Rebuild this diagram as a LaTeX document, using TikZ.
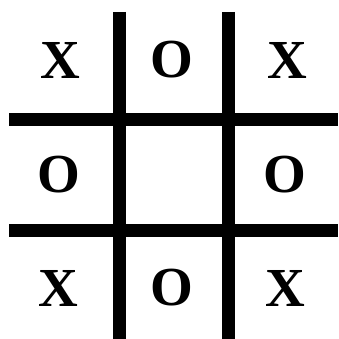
\documentclass[tikz,border=0pt]{standalone}
\usepackage{fontspec}
\setmainfont{Liberation Serif}
\usetikzlibrary{calc}

\begin{document}
\begin{tikzpicture}[x=1pt, y=-1pt, line width=13pt,
    cellmark/.style={inner sep=0pt, font=\fontsize{55}{55}\selectfont\bfseries}]
  \useasboundingbox (0,0) rectangle (338,339);
  % board: two vertical and two horizontal bars
  \coordinate (V1) at (119,12);
  \coordinate (V2) at (228,12);
  \coordinate (H1) at (9,120);
  \coordinate (H2) at (9,230);
  \draw (V1) -- (119,339);
  \draw (V2) -- (228,339);
  \draw (H1) -- (338,120);
  \draw (H2) -- (338,230);
  % marks, row by row
  \node[cellmark] (a1) at (60,60) {X};
  \node[cellmark] (a2) at (172,60) {O};
  \node[cellmark] (a3) at (287,60) {X};
  \node[cellmark] (b1) at (59,175) {O};
  \node[cellmark] (b3) at (285,175) {O};
  \node[cellmark] (c1) at (58,288) {X};
  \node[cellmark] (c2) at (172,288) {O};
  \node[cellmark] (c3) at (285,288) {X};
\end{tikzpicture}
\end{document}
